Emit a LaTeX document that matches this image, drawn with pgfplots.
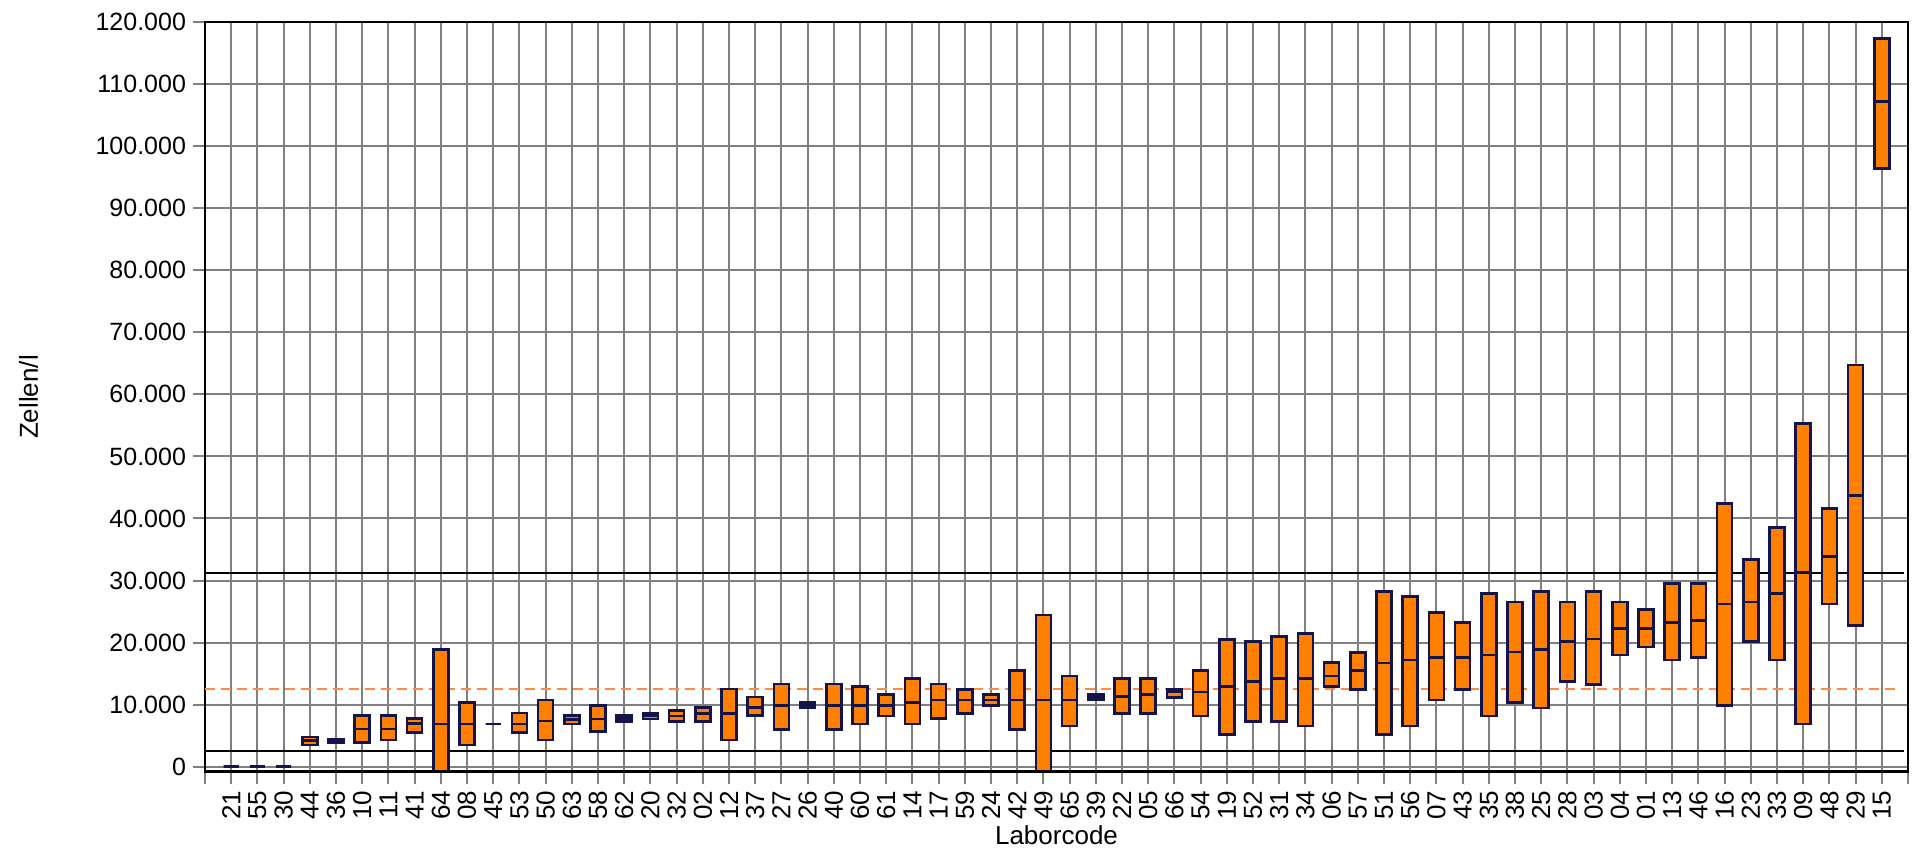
\documentclass[border=0pt]{standalone}
\usepackage{fontspec}
\setmainfont{Liberation Sans}
\usepackage{pgfplots}
\usepackage{pgfplotstable}
\pgfplotsset{compat=1.18}
\usepgfplotslibrary{statistics}
\definecolor{boxfill}{RGB}{255,128,0}
\definecolor{boxline}{RGB}{20,20,72}
\definecolor{gridgray}{RGB}{128,128,128}
\definecolor{dashorange}{RGB}{255,140,64}
% values in thousands of Zellen/l
\pgfplotstableread{
x lo med hi
0 0 0 0
1 0 0 0
2 0 0 0
3 3.50 4.20 4.80
4 3.80 4.10 4.40
5 3.87 6.07 8.22
6 4.30 6.07 8.22
7 5.54 6.99 7.80
8 -1.50 6.88 18.92
9 3.50 6.88 10.31
10 6.88 6.88 6.88
11 5.54 6.88 8.65
12 4.30 7.37 10.75
13 6.88 7.63 8.22
14 5.64 7.69 9.89
15 7.25 7.74 8.22
16 7.69 8.15 8.60
17 7.31 8.20 9.03
18 7.31 8.60 9.57
19 4.30 8.60 12.52
20 8.22 9.51 11.23
21 6.02 9.89 13.33
22 9.46 9.89 10.37
23 6.02 9.89 13.33
24 6.88 9.89 12.89
25 8.17 9.89 11.60
26 6.88 10.31 14.18
27 7.74 10.75 13.33
28 8.60 10.75 12.47
29 9.89 10.75 11.60
30 6.02 10.75 15.47
31 -1.50 10.75 24.44
32 6.56 10.75 14.61
33 10.75 11.17 11.60
34 8.60 11.28 14.18
35 8.60 11.60 14.18
36 11.18 12.04 12.47
37 8.17 12.04 15.47
38 5.22 12.89 20.53
39 7.31 13.70 20.14
40 7.31 14.18 21.01
41 6.56 14.18 21.43
42 12.89 14.61 16.82
43 12.47 15.47 18.43
44 5.22 16.71 28.26
45 6.56 17.19 27.39
46 10.75 17.63 24.88
47 12.47 17.63 23.20
48 8.17 18.00 27.88
49 10.31 18.48 26.54
50 9.46 18.85 28.26
51 13.70 20.14 26.54
52 13.27 20.58 28.26
53 18.00 22.30 26.54
54 19.29 22.30 25.30
55 17.19 23.20 29.55
56 17.57 23.59 29.55
57 9.89 26.22 42.44
58 20.14 26.54 33.42
59 17.19 27.88 38.57
60 6.88 31.26 55.33
61 26.22 33.90 41.57
62 22.72 43.73 64.73
63 96.42 107.15 117.37
}\datatable
\begin{document}
\begin{tikzpicture}
\begin{axis}[
  scale only axis,
  width=851.5pt, height=375pt,
  xmin=-1, xmax=64, ymin=-0.85, ymax=120,
  xtick={-1,0,...,64},
  xticklabels={,21,55,30,44,36,10,11,41,64,08,45,53,50,63,58,62,20,32,02,12,37,27,26,40,60,61,14,17,59,24,42,49,65,39,22,05,66,54,19,52,31,34,06,57,51,56,07,43,35,38,25,28,03,04,01,13,46,16,23,33,09,48,29,15,},
  ytick={0,10,...,120},
  yticklabels={0,10.000,20.000,30.000,40.000,50.000,60.000,70.000,80.000,90.000,100.000,110.000,120.000},
  tick pos=left,
  tick align=outside,
  major tick length=6pt,
  tick style={gridgray, line width=1pt},
  grid=major,
  major grid style={gridgray, line width=1pt},
  axis line style={black, line width=1pt},
  xticklabel style={rotate=90, anchor=east, font=\fontsize{13}{15}\selectfont},
  yticklabel style={font=\fontsize{12.5}{15}\selectfont},
  every axis x label/.style={at={(rel axis cs:0.5,-0.0973)}, anchor=base, font=\fontsize{13}{15}\selectfont},
  every axis y label/.style={at={(rel axis cs:-0.0981,0.5)}, rotate=90, anchor=base, font=\fontsize{13}{15}\selectfont},
  xlabel={Laborcode},
  ylabel={Zellen/l},
  boxplot/draw direction=y,
  boxplot/every box/.style={draw=boxline, fill=boxfill, line width=1.3pt},
  boxplot/every median/.style={draw=boxline, line width=1.3pt},
  boxplot/every whisker/.style={draw=none},
]
\addplot[black, line width=1.1pt, forget plot] coordinates {(-1,31.26) (63.85,31.26)};
\addplot[black, line width=1.1pt, forget plot] coordinates {(-1,2.58) (63.85,2.58)};
\addplot[dashorange, line width=1.1pt, dash pattern=on 5pt off 3pt, forget plot] coordinates {(-1,12.47) (63.7,12.47)};
\pgfplotsinvokeforeach{0,...,63}{
  \pgfplotstablegetelem{#1}{lo}\of\datatable \edef\vlo{\pgfplotsretval}
  \pgfplotstablegetelem{#1}{med}\of\datatable \edef\vmed{\pgfplotsretval}
  \pgfplotstablegetelem{#1}{hi}\of\datatable \edef\vhi{\pgfplotsretval}
  \edef\doplot{\noexpand\addplot[forget plot, boxplot prepared={draw direction=y, draw position=#1, lower whisker=\vlo, lower quartile=\vlo, median=\vmed, upper quartile=\vhi, upper whisker=\vhi, box extend=0.57, whisker extend=0}] coordinates {};}
  \doplot
}
\draw[black, line width=2pt] (rel axis cs:0,0) -- (rel axis cs:1,0);
\end{axis}
\path[use as bounding box] ([shift={(-102.5pt,-39pt)}]current axis.south west) rectangle ([shift={(4pt,11pt)}]current axis.north east);
\end{tikzpicture}
\end{document}
